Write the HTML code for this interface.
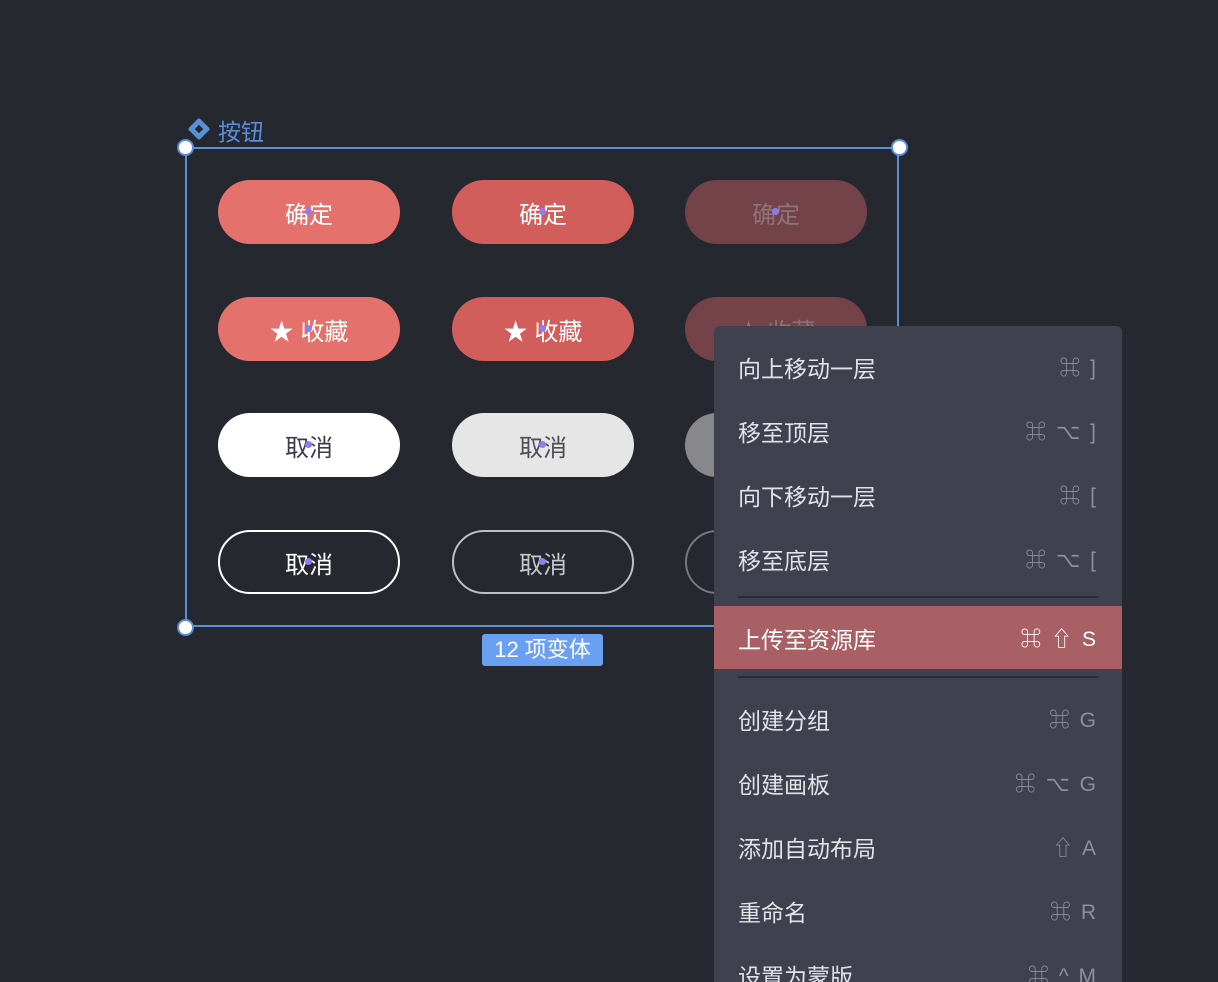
<!DOCTYPE html>
<html><head><meta charset="utf-8"><style>
html,body{margin:0;width:1218px;height:982px;overflow:hidden}
body{background:#262830;position:relative;font-family:"Liberation Sans","Noto Sans CJK SC",sans-serif}
.a{position:absolute}
.btn{position:absolute;width:182px;height:64px;border-radius:32px;display:flex;align-items:center;justify-content:center;font-size:24px;box-sizing:border-box}
.dot{position:absolute;width:7px;height:7px;border-radius:50%;background:#8f7cf0;left:50%;top:50%;margin:-4px 0 0 -4px}
.h{position:absolute;width:17px;height:17px;border-radius:50%;background:#fff;border:2px solid #5b8fd9;box-sizing:border-box}
.mi{position:absolute;left:714px;width:408px;height:64px;display:flex;align-items:center;justify-content:space-between;padding:0 24px;box-sizing:border-box;color:#e2e3e8;font-size:23px}
.mi span{color:#8d8f99;font-size:21px;letter-spacing:2px}
.sep{position:absolute;left:738px;width:360px;height:2px;background:#2b2d36}
</style></head><body>
<div class="a" style="left:191px;top:121px;width:16px;height:16px;border:5px solid #5b8fd9;transform:rotate(45deg);box-sizing:border-box;border-radius:2px"></div>
<div class="a" style="left:218px;top:113px;color:#5b8fd9;font-size:23px">按钮</div>
<div class="a" style="left:185px;top:147px;width:714px;height:480px;border:2px solid #5b8fd9;box-sizing:border-box"></div>
<div class="h" style="left:177px;top:139px"></div><div class="h" style="left:891px;top:139px"></div><div class="h" style="left:177px;top:619px"></div>
<div class="a" style="left:482px;top:634px;width:121px;height:32px;background:#6aa0f2;border-radius:3px;color:#fff;font-size:22px;text-align:center;line-height:32px">12 项变体</div>

<div class="btn" style="left:218px;top:180px;background:#e4716c;color:#fff">确定<i class="dot"></i></div>
<div class="btn" style="left:452px;top:180px;background:#d25e5c;color:#fff">确定<i class="dot"></i></div>
<div class="btn" style="left:685px;top:180px;background:#744349;color:#8d7478">确定<i class="dot"></i></div>
<div class="btn" style="left:218px;top:297px;background:#e4716c;color:#fff">★ 收藏<i class="dot"></i></div>
<div class="btn" style="left:452px;top:297px;background:#d25e5c;color:#fff">★ 收藏<i class="dot"></i></div>
<div class="btn" style="left:685px;top:297px;background:#744349;color:#8d7478">★ 收藏</div>
<div class="btn" style="left:218px;top:413px;background:#fff;color:#3a3c48">取消<i class="dot"></i></div>
<div class="btn" style="left:452px;top:413px;background:#e6e6e6;color:#4a4c58">取消<i class="dot"></i></div>
<div class="btn" style="left:685px;top:413px;background:#88888c;color:#555"></div>
<div class="btn" style="left:218px;top:530px;border:2px solid #fff;color:#fff">取消<i class="dot"></i></div>
<div class="btn" style="left:452px;top:530px;border:2px solid #bfbfc2;color:#c8c8cc">取消<i class="dot"></i></div>
<div class="btn" style="left:685px;top:530px;border:2px solid #77787d"></div>

<div class="a" style="left:714px;top:326px;width:408px;height:656px;background:#3f414f;border-radius:6px 6px 0 0"></div>
<div class="mi" style="top:335px">向上移动一层<span>⌘ ]</span></div>
<div class="mi" style="top:399px">移至顶层<span>⌘ ⌥ ]</span></div>
<div class="mi" style="top:463px">向下移动一层<span>⌘ [</span></div>
<div class="mi" style="top:527px">移至底层<span>⌘ ⌥ [</span></div>
<div class="sep" style="top:596px"></div>
<div class="a" style="left:714px;top:606px;width:408px;height:63px;background:#a86064"></div>
<div class="mi" style="top:606px;height:63px;color:#fff">上传至资源库<span style="color:#fff">⌘ ⇧ S</span></div>
<div class="sep" style="top:676px"></div>
<div class="mi" style="top:687px">创建分组<span>⌘ G</span></div>
<div class="mi" style="top:751px">创建画板<span>⌘ ⌥ G</span></div>
<div class="mi" style="top:815px">添加自动布局<span>⇧ A</span></div>
<div class="mi" style="top:879px">重命名<span>⌘ R</span></div>
<div class="mi" style="top:943px">设置为蒙版<span>⌘ ^ M</span></div>
</body></html>
